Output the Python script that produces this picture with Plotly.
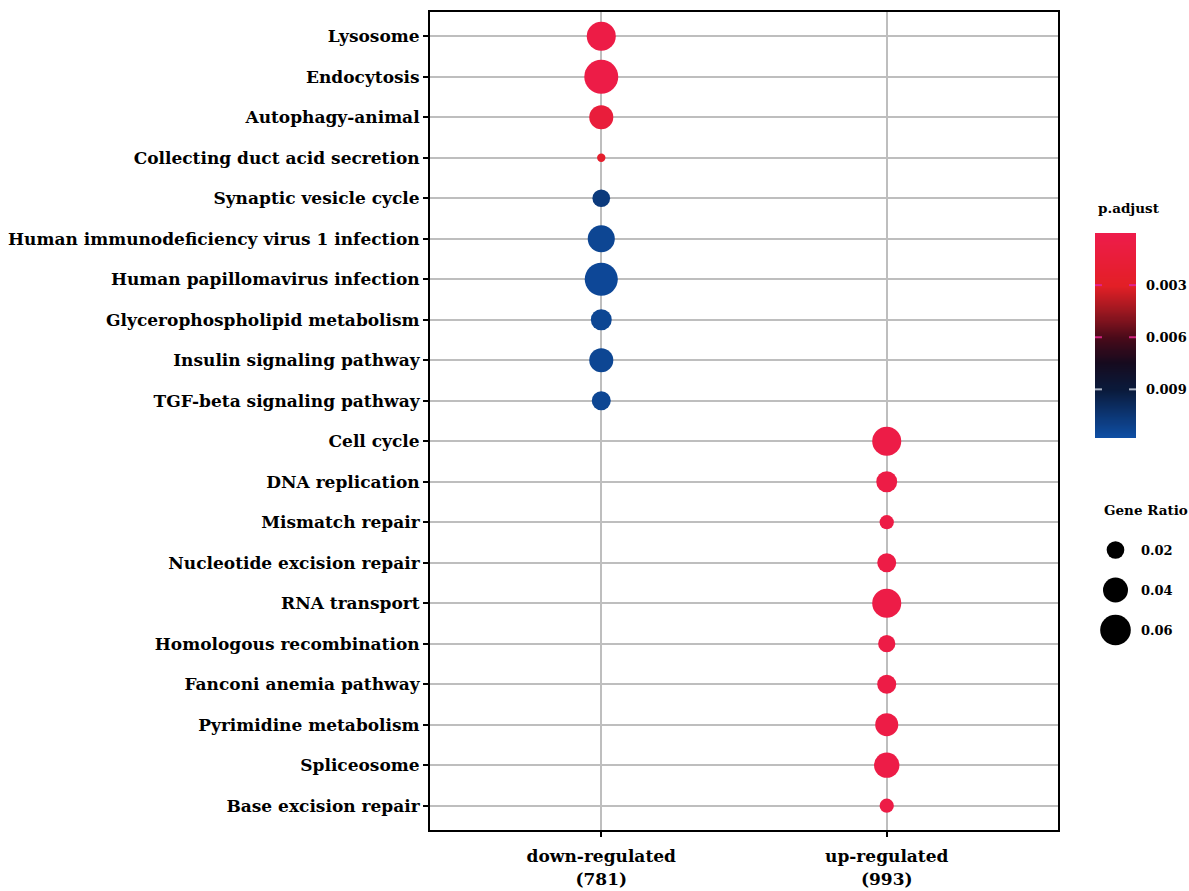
import numpy as np
import plotly.graph_objects as go

# KEGG pathways enriched in each gene group
down_terms = ["Lysosome", "Endocytosis", "Autophagy-animal", "Collecting duct acid secretion",
              "Synaptic vesicle cycle", "Human immunodeficiency virus 1 infection",
              "Human papillomavirus infection", "Glycerophospholipid metabolism",
              "Insulin signaling pathway", "TGF-beta signaling pathway"]
down_ratio = [0.054, 0.074, 0.037, 0.0045, 0.020, 0.047, 0.070, 0.028, 0.037, 0.023]
down_padj = [0.0004, 0.0003, 0.0013, 0.0024, 0.0107, 0.0113, 0.0114, 0.0113, 0.0113, 0.0113]

up_terms = ["Cell cycle", "DNA replication", "Mismatch repair", "Nucleotide excision repair",
            "RNA transport", "Homologous recombination", "Fanconi anemia pathway",
            "Pyrimidine metabolism", "Spliceosome", "Base excision repair"]
up_ratio = [0.054, 0.028, 0.013, 0.023, 0.054, 0.019, 0.023, 0.034, 0.041, 0.013]
up_padj = [0.0003, 0.0004, 0.0004, 0.0004, 0.0003, 0.0004, 0.0004, 0.0004, 0.0003, 0.0004]

groups = ["down-regulated<br>(781)", "up-regulated<br>(993)"]
legend_ratios = [0.02, 0.04, 0.06]
padj_ticks = [0.003, 0.006, 0.009]
padj_min, padj_max = 0.0, 0.0118

colorscale = [
    [0.0, "#EE1C4B"], [0.254, "#E31F26"], [0.38, "#9C1720"], [0.508, "#4A0A19"],
    [0.63, "#160A1E"], [0.763, "#0A1A3B"], [1.0, "#0E4FA6"],
]
SIZEREF = 1.28e-4  # area scaling: diameter ~ 125*sqrt(ratio) px
FONT = "DejaVu Serif"

terms = down_terms + up_terms
xs = [0] * len(down_terms) + [1] * len(up_terms)
ratios = down_ratio + up_ratio
padj = down_padj + up_padj

W, H = 1189, 891
ML, MR, MT, MB = 430, 1, 12, 61
PW, PH = W - ML - MR, H - MT - MB


def fx(px):
    return (px - ML) / PW


def fy(py):
    return (H - MB - py) / PH


fig = go.Figure()

fig.add_trace(go.Scatter(
    x=xs, y=terms, mode="markers", cliponaxis=False,
    marker=dict(size=ratios, sizemode="area", sizeref=SIZEREF,
                color=padj, colorscale=colorscale, cmin=padj_min, cmax=padj_max,
                showscale=False, line=dict(width=0), opacity=1),
    hovertemplate="%{y}<br>GeneRatio=%{marker.size}<br>p.adjust=%{marker.color}<extra></extra>",
))

# p.adjust colour bar (low values on top)
grad = np.linspace(padj_min, padj_max, 200)
fig.add_trace(go.Heatmap(
    x=[0, 1], y=grad, z=np.column_stack([grad, grad]),
    colorscale=colorscale, zmin=padj_min, zmax=padj_max, showscale=False,
    zsmooth="best", xaxis="x2", yaxis="y2", hoverinfo="skip",
))

# Gene ratio size key
fig.add_trace(go.Scatter(
    x=[0.5, 0.5, 0.5], y=[2.5, 1.5, 0.5], mode="markers", cliponaxis=False,
    marker=dict(size=legend_ratios, sizemode="area", sizeref=SIZEREF, color="#000000",
                opacity=1, line=dict(width=0)),
    opacity=1, xaxis="x3", yaxis="y3", hoverinfo="skip",
))

axis_common = dict(showline=True, linecolor="black", linewidth=2, mirror=True,
                   ticks="outside", ticklen=5, tickwidth=2, tickcolor="black",
                   showgrid=True, gridcolor="#BEBEBE", gridwidth=2, zeroline=False,
                   automargin=False)

fig.update_layout(
    width=W, height=H, margin=dict(l=ML, r=MR, t=MT, b=MB),
    paper_bgcolor="white", plot_bgcolor="white", showlegend=False,
    font=dict(family=FONT, size=17, color="black"),
    xaxis=dict(domain=[0, fx(1058)], range=[-0.6, 1.6], tickvals=[0, 1], ticktext=groups,
               tickfont=dict(family=FONT, size=17, weight="bold"), ticklabelstandoff=5,
               **axis_common),
    yaxis=dict(type="category", categoryorder="array", categoryarray=terms,
               range=[len(terms) - 0.4, -0.6],
               tickfont=dict(family=FONT, size=17, weight="bold"), **axis_common),
    xaxis2=dict(domain=[fx(1095), fx(1136)], range=[0, 1], anchor="y2",
                visible=False, fixedrange=True),
    yaxis2=dict(domain=[fy(438), fy(233)], range=[padj_max, padj_min], anchor="x2",
                visible=False, fixedrange=True),
    xaxis3=dict(domain=[fx(1095), fx(1136)], range=[0, 1], anchor="y3",
                visible=False, fixedrange=True),
    yaxis3=dict(domain=[fy(650), fy(530)], range=[0, 3], anchor="x3",
                visible=False, fixedrange=True),
)

# small tick marks drawn inside the colour bar, with their labels
for v, c in zip(padj_ticks, ["#E0238E", "#D0237E", "#AEB6C6"]):
    for x0, x1 in [(0, 0.17), (0.83, 1)]:
        fig.add_shape(type="line", xref="x2", yref="y2", x0=x0, x1=x1, y0=v, y1=v,
                      line=dict(color=c, width=2))
    fig.add_annotation(x=fx(1144), y=v, xref="paper", yref="y2", xanchor="left",
                       yanchor="middle", text=f"{v:.3f}", showarrow=False,
                       font=dict(family=FONT, size=13, weight="bold"))

fig.add_annotation(x=fx(1096), y=fy(208), xref="paper", yref="paper", xanchor="left",
                   yanchor="middle", text="p.adjust", showarrow=False,
                   font=dict(family=FONT, size=13.5, weight="bold"))
fig.add_annotation(x=fx(1102), y=fy(510), xref="paper", yref="paper", xanchor="left",
                   yanchor="middle", text="Gene Ratio", showarrow=False,
                   font=dict(family=FONT, size=13.5, weight="bold"))
for r, yy in zip(legend_ratios, [2.5, 1.5, 0.5]):
    fig.add_annotation(x=fx(1139), y=yy, xref="paper", yref="y3", xanchor="left",
                       yanchor="middle", text=f"{r:.2f}", showarrow=False,
                       font=dict(family=FONT, size=13, weight="bold"))

fig.write_html("out.html")
